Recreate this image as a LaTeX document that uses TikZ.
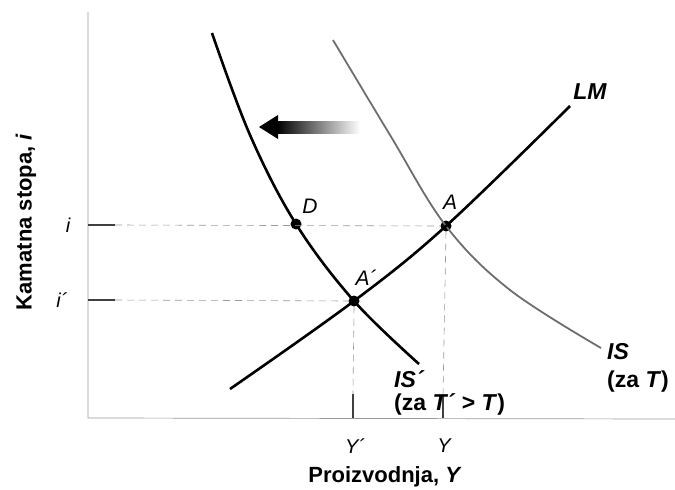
\documentclass[tikz,border=0pt]{standalone}
\usepackage{fontspec}
\setmainfont{Liberation Sans}
\usepackage{tikz}
\usetikzlibrary{arrows.meta,calc}
\definecolor{axisgray}{HTML}{9A9A9A}
\definecolor{isgray}{HTML}{6E6E6E}
\tikzset{
  axisline/.style={draw=axisgray, line width=0.7pt},
  guideline/.style={draw=axisgray, dashed, dash pattern=on 7pt off 5pt, line width=0.6pt},
  tickline/.style={draw=black!75, line width=1.3pt},
  curvenew/.style={draw=black, line width=2.6pt},
  curveold/.style={draw=isgray, line width=1.8pt},
  dotnode/.style={circle, fill=black, inner sep=0pt, minimum size=11pt},
  ticklabel/.style={font=\fontsize{20}{22}\selectfont\itshape, inner sep=1pt},
  pointlabel/.style={font=\fontsize{21}{23}\selectfont\itshape, inner sep=1pt},
  curvelabel/.style={font=\fontsize{23}{26}\selectfont\bfseries, align=left, inner sep=0pt},
  axistitle/.style={font=\fontsize{22}{24}\selectfont\bfseries, inner sep=1pt}
}
\begin{document}
\begin{tikzpicture}[x=1pt, y=-1pt]
  \useasboundingbox (0,0) rectangle (675,490);
  % axes
  \coordinate (origin) at (88,418);
  \coordinate (ytop) at (88,12);
  \coordinate (xend) at (675,419);
  \draw[axisline] (ytop) -- (origin) -- (xend);
  % equilibrium points
  \node[dotnode] (A) at (446,226) {};
  \node[dotnode] (Ap) at (354,301) {};
  \node[dotnode] (D) at (296,224) {};
  % curves
  \draw[curveold] plot[smooth, tension=0.6] coordinates {(333,40) (390,135) (446,226) (510,290) (601,348)};
  \draw[curvenew] plot[smooth, tension=0.6] coordinates {(212,33) (250,135) (296,224) (354,301) (419,364)};
  \draw[curvenew] plot[smooth, tension=0.6] coordinates {(230,389) (354,301) (446,226) (570,106)};
  % ticks and guides
  \coordinate (ti) at (115,225);
  \coordinate (tip) at (115,300);
  \coordinate (tY) at (443,396);
  \coordinate (tYp) at (353,394);
  \draw[tickline] (88,225) -- (ti);
  \draw[tickline] (88,300) -- (tip);
  \draw[tickline] (tY) -- (443,418);
  \draw[tickline] (tYp) -- (353,418);
  \draw[guideline] (ti) -- (A.west);
  \draw[guideline] (tip) -- (Ap.west);
  \draw[guideline] (A.south) -- (tY);
  \draw[guideline] (Ap.south) -- (tYp);
  % shift arrow
  \coordinate (shiftR) at (360,127);
  \coordinate (shiftL) at (259,127);
  \shade[left color=black, right color=white] (277,121) rectangle (shiftR |- 0,133);
  \fill (shiftL) -- (278,115) -- (278,139) -- cycle;
  % labels
  \node[ticklabel] (li) at (68,225) {i};
  \node[ticklabel] (lip) at (62,300) {i´};
  \node[ticklabel] (lYp) at (355,446) {Y´};
  \node[ticklabel] (lY) at (444,446) {Y};
  \node[pointlabel] at (310,206) {D};
  \node[pointlabel] at (450,202) {A};
  \node[pointlabel] at (366,278) {A´};
  \node[curvelabel] at (590,92) {\itshape LM};
  \node[curvelabel, anchor=north west] at (607,343) {\itshape IS\\[2pt](za \textit{T})};
  \node[curvelabel, anchor=north west] at (394,370) {\itshape IS´\\[-3pt](za \textit{T´} > \textit{T})};
  \node[axistitle] at (385,477) {Proizvodnja, \textit{Y}};
  \node[axistitle, rotate=90] at (26,222) {Kamatna stopa, \textit{i}};
\end{tikzpicture}
\end{document}
